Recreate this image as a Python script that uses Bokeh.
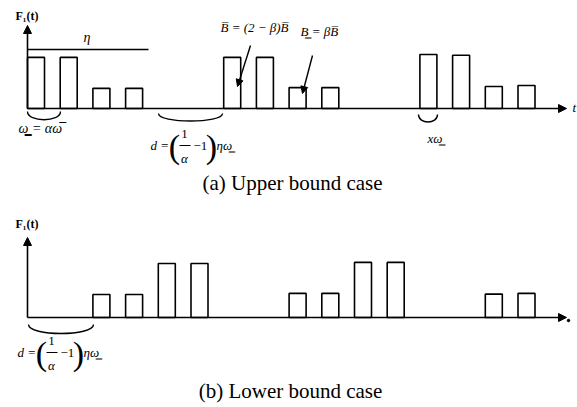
from bokeh.plotting import figure
from bokeh.layouts import column
from bokeh.models import Range1d, Arrow, NormalHead
from bokeh.core.properties import value
from bokeh.embed import file_html
from bokeh.resources import INLINE

# ---- data (t in pulse periods, heights in units of B-bar) ----
upper_t = [0, 1, 2, 3, 6, 7, 8, 9, 12, 13, 14, 15]
upper_h = [1.42, 1.42, 0.56, 0.56, 1.42, 1.42, 0.58, 0.58, 1.50, 1.48, 0.61, 0.64]
lower_t = [2, 3, 4, 5, 8, 9, 10, 11, 14, 15]
lower_h = [0.64, 0.64, 1.50, 1.50, 0.67, 0.67, 1.53, 1.53, 0.65, 0.67]
bar_width = 0.52
captions = ["(a) Upper bound case", "(b) Lower bound case"]

SERIF = value("Liberation Serif")
PX_X = 32.7   # pixels per t unit
PX_Y = 36.0   # pixels per height unit


def make_panel(height, y_lo, y_hi):
    p = figure(width=577, height=height,
               x_range=Range1d(-27 / PX_X, 550 / PX_X),
               y_range=Range1d(y_lo, y_hi),
               x_axis_type=None, y_axis_type=None,
               output_backend="svg", toolbar_location=None,
               min_border=0, outline_line_color=None,
               background_fill_color="white", border_fill_color="white")
    p.xgrid.visible = False
    p.ygrid.visible = False
    return p


def txt(p, x, y, s, size="12px", style="italic", align="left"):
    p.text(x=[x], y=[y], text=[s], text_font=SERIF, text_font_size=size,
           text_font_style=style, text_align=align, text_baseline="middle",
           text_color="black")


def axes(p, y_top, label_y):
    p.add_layout(Arrow(end=NormalHead(size=8, fill_color="black", line_color="black"),
                       x_start=0, y_start=0, x_end=0, y_end=y_top,
                       line_width=1.6, line_color="black"))
    p.add_layout(Arrow(end=NormalHead(size=8, fill_color="black", line_color="black"),
                       x_start=0, y_start=0, x_end=539 / PX_X, y_end=0,
                       line_width=1.6, line_color="black"))
    txt(p, -12 / PX_X, label_y, "F\u2081(t)", size="12px", style="bold")


def brace(p, x0, x1, y_top, y_ctrl):
    p.bezier(x0=[x0], y0=[y_top], x1=[x1], y1=[y_top],
             cx0=[x0], cy0=[y_ctrl], cx1=[x1], cy1=[y_ctrl],
             line_color="black", line_width=1.4)


def d_label(p, x0, y0):
    dx = lambda px: x0 + px / PX_X
    dy = lambda px: y0 - px / PX_Y
    txt(p, dx(0), dy(0), "d =", size="13px")
    txt(p, dx(24), dy(1), "(", size="34px", style="normal", align="center")
    txt(p, dx(34), dy(-12), "1", size="13px", style="normal", align="center")
    p.segment(x0=[dx(29)], y0=[dy(0)], x1=[dx(40)], y1=[dy(0)],
              line_color="black", line_width=1)
    txt(p, dx(34), dy(13), "\u03b1", size="13px", align="center")
    txt(p, dx(43), dy(0), "\u22121", size="13px", style="normal")
    txt(p, dx(61), dy(1), ")", size="34px", style="normal", align="center")
    txt(p, dx(66), dy(0), "\u03b7\u03c9\u0333", size="13px")


def bars(p, t, h):
    p.quad(left=t, right=[v + bar_width for v in t], bottom=[0] * len(t), top=h,
           fill_color=None, line_color="black", line_width=1.6)


# ---------------- panel (a) ----------------
pa = make_panel(200, -92 / PX_Y, 108 / PX_Y)
bars(pa, upper_t, upper_h)
axes(pa, 83 / PX_Y, 93 / PX_Y)
txt(pa, 539 / PX_X + 6 / PX_X, 1 / PX_Y, "t", size="13px")
# eta span
pa.segment(x0=[0], y0=[59 / PX_Y], x1=[121 / PX_X], y1=[59 / PX_Y],
           line_color="black", line_width=1.5)
txt(pa, 56 / PX_X, 71 / PX_Y, "\u03b7", size="14px")
# omega brace
brace(pa, 0, 33 / PX_X, -3 / PX_Y, -14 / PX_Y)
txt(pa, -9 / PX_X, -20 / PX_Y, "\u03c9\u0333 = \u03b1\u03c9\u0305", size="14px")
# gap d brace
brace(pa, 131 / PX_X, 195 / PX_X, -5 / PX_Y, -15 / PX_Y)
d_label(pa, 123 / PX_X, -37 / PX_Y)
# x omega brace
brace(pa, 391 / PX_X, 410 / PX_X, -6 / PX_Y, -16 / PX_Y)
txt(pa, 400 / PX_X, -30 / PX_Y, "x\u03c9\u0333", size="13px")
# B labels with arrows
txt(pa, 193 / PX_X, 81 / PX_Y, "B\u0305 = (2 \u2212 \u03b2)B\u0305", size="13px")
pa.add_layout(Arrow(end=NormalHead(size=7, fill_color="black", line_color="black"),
                    x_start=223 / PX_X, y_start=63 / PX_Y,
                    x_end=210 / PX_X, y_end=22 / PX_Y,
                    line_width=1.4, line_color="black"))
txt(pa, 273 / PX_X, 77 / PX_Y, "B\u0333 = \u03b2B\u0305", size="13px")
pa.add_layout(Arrow(end=NormalHead(size=7, fill_color="black", line_color="black"),
                    x_start=285 / PX_X, y_start=53 / PX_Y,
                    x_end=275 / PX_X, y_end=15 / PX_Y,
                    line_width=1.4, line_color="black"))
txt(pa, 265 / PX_X, -74 / PX_Y, captions[0], size="21px", style="normal", align="center")

# ---------------- panel (b) ----------------
pb = make_panel(207, -90 / PX_Y, 117 / PX_Y)
bars(pb, lower_t, lower_h)
axes(pb, 80 / PX_Y, 94 / PX_Y)
pb.scatter(x=[541 / PX_X], y=[-3 / PX_Y], size=2.5, color="black")
brace(pb, 1 / PX_X, 66 / PX_X, -7 / PX_Y, -19 / PX_Y)
d_label(pb, -10 / PX_X, -35 / PX_Y)
txt(pb, 263 / PX_X, -73 / PX_Y, captions[1], size="21px", style="normal", align="center")

layout = column(pa, pb, spacing=0)
open("out.html", "w").write(file_html(layout, INLINE))
